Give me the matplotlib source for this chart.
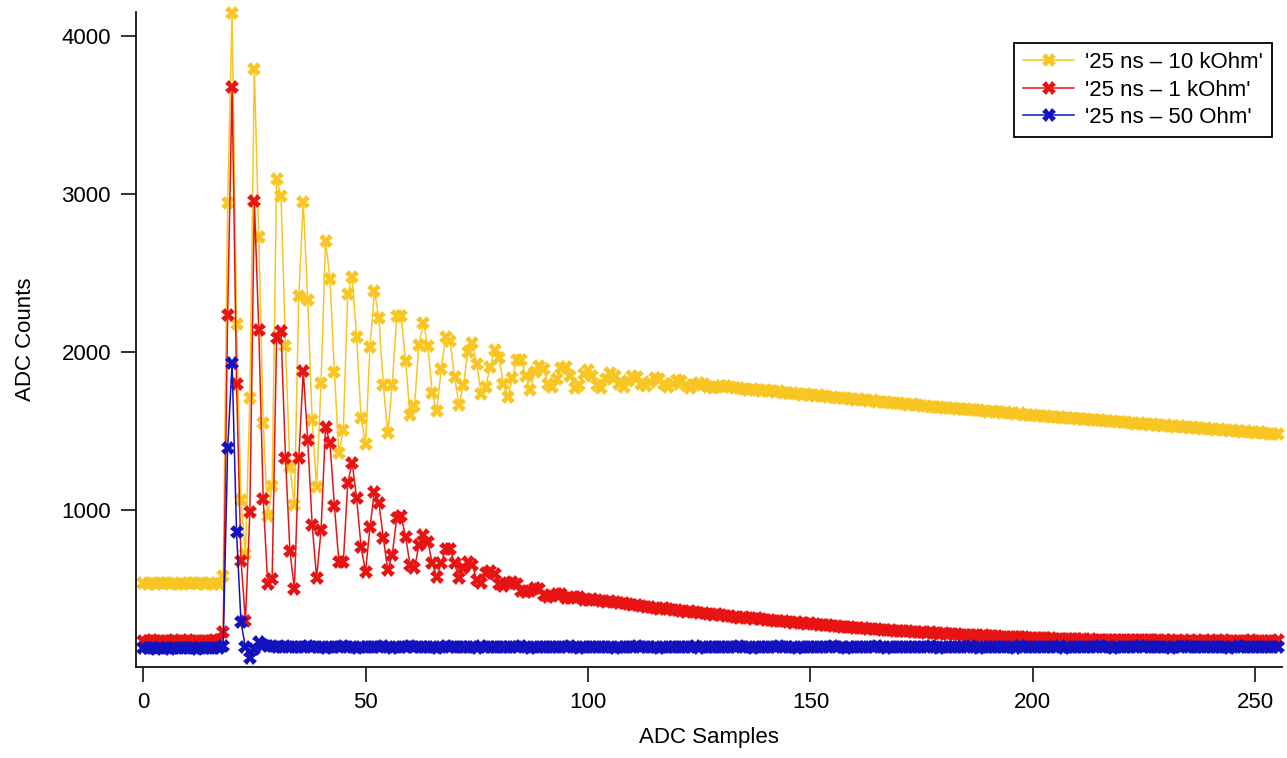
import numpy as np
import matplotlib
matplotlib.use("Agg")
from matplotlib import pyplot as plt

# ADC counts, sample index 0..255
yellow_10k = [536, 534, 538, 533, 535, 537, 532, 536, 534, 531, 535, 538, 533, 536, 532, 535, 530, 534,
	585, 2940, 4145, 2180, 1060, 720, 1710, 3790, 2730, 1550, 960, 1150, 3095, 2990, 2040, 1270, 1030, 2355,
	2950, 2330, 1570, 1146, 1806, 2705, 2465, 1875, 1360, 1506, 2367, 2473, 2093, 1580, 1418, 2033, 2388, 2213,
	1791, 1485, 1791, 2225, 2228, 1945, 1601, 1658, 2044, 2186, 2038, 1738, 1628,
	1890, 2097, 2071, 1844, 1665, 1791, 2002, 2055, 1924, 1734, 1780, 1903, 2013, 1960, 1797, 1717, 1833, 1949,
	1949, 1848, 1759, 1875, 1911, 1890, 1800, 1776,
	1830, 1900, 1905, 1850, 1770, 1790, 1860, 1885, 1850, 1790, 1775, 1830, 1865, 1850, 1800, 1780, 1815, 1850,
	1840, 1800, 1785, 1810, 1835, 1830, 1795, 1780, 1800, 1820, 1815, 1790, 1775, 1790, 1805, 1800, 1780, 1770, 1780,
	1782, 1785, 1776, 1770, 1774, 1768, 1762, 1765, 1758, 1756,
	1760, 1752, 1746, 1750, 1743, 1738, 1741, 1735, 1730, 1733,
	1727, 1722, 1725, 1719, 1714, 1717, 1710, 1706, 1709, 1702,
	1698, 1701, 1694, 1690, 1693, 1686, 1682, 1685, 1678, 1675,
	1677, 1670, 1666, 1669, 1662, 1658, 1661, 1654, 1650, 1653,
	1648, 1644, 1647, 1640, 1637, 1640, 1633, 1630, 1632, 1626,
	1622, 1625, 1618, 1615, 1618, 1611, 1608, 1611, 1604, 1601,
	1604, 1597, 1594, 1597, 1590, 1587, 1590, 1583, 1580, 1583,
	1577, 1573, 1576, 1570, 1567, 1570, 1563, 1560, 1563, 1557,
	1554, 1557, 1550, 1547, 1550, 1543, 1540, 1543, 1537, 1534,
	1537, 1530, 1527, 1530, 1524, 1521, 1524, 1517, 1514, 1517,
	1511, 1508, 1511, 1504, 1501, 1504, 1498, 1495, 1498, 1491,
	1489, 1491, 1485, 1482, 1484, 1478]

red_1k = [172, 170, 174, 171, 169, 173, 171, 175, 170, 172, 174, 171, 169, 173, 172, 170, 174, 178,
	225, 2235, 3680, 1800, 680, 300, 990, 2955, 2140, 1070, 530, 560, 2090, 2130, 1330, 740, 500, 1330,
	1880, 1440, 905, 570, 873, 1527, 1424, 1025, 673, 669, 1173, 1296, 1074, 764, 610, 894, 1116, 1046,
	821, 620, 715, 947, 962, 831, 652, 631, 778, 842, 799, 662, 578,
	662, 751, 751, 662, 568, 631, 673, 652, 557, 540, 600, 615, 595, 530, 520, 540, 545, 530,
	490, 480, 485, 505, 500, 460, 450, 455,
	470, 465, 445, 440, 450, 448, 432, 428, 436, 430,
	422, 420, 424, 415, 408, 410, 404, 398, 400, 392,
	386, 388, 382, 376, 378, 371, 366, 368, 361, 356,
	358, 351, 346, 348, 342, 337, 339,
	333, 328, 330, 324, 319, 321, 315, 311, 313, 307,
	303, 305, 299, 295, 297, 291, 287, 289, 284, 280,
	282, 276, 273, 275, 269, 266, 268, 262, 259, 261,
	256, 253, 255, 249, 246, 248, 243, 240, 242, 237,
	234, 236, 231, 228, 230, 225, 223, 225, 220, 218,
	220, 215, 213, 215, 211, 209, 211, 206, 204, 206,
	202, 200, 202, 198, 196, 198, 194, 193, 195, 191,
	190, 192, 188, 187, 189, 185, 184, 186, 183, 182,
	184, 181, 180, 182, 179, 178, 180, 177, 177, 179,
	176, 176, 178, 175, 175, 177, 174, 174, 176, 173,
	174, 176, 173, 173, 175, 172, 173, 175, 172, 172,
	174, 171, 172, 174, 171, 172, 173, 171, 172, 174,
	171, 172, 173, 171, 172, 174]

blue_50 = [126, 124, 128, 123, 127, 125, 122, 126, 128, 124, 125, 127, 123, 126, 124, 128, 125, 127,
	138, 1390, 1930, 860, 290, 130, 60, 120, 165, 148, 140, 136,
	134, 131, 136, 132, 135, 130, 133, 137, 131, 134,
	132, 128, 135, 133, 130, 136, 131, 134, 129, 133,
	135, 131, 134, 130, 136, 132, 129, 134, 133, 131,
	136, 130, 133, 135, 131, 134, 128, 133, 136, 132,
	130, 135, 133, 131, 134, 129, 136, 132, 133, 130,
	134, 131, 135, 132, 130, 136, 133, 129, 134, 132,
	131, 135, 133, 130, 134, 132, 136, 131, 129, 134,
	133, 130, 135, 131, 134, 132, 128, 135, 133, 131,
	134, 136, 130, 133, 131, 135, 129, 134, 132, 133,
	130, 135, 133, 131, 136, 129, 134, 132, 130, 135,
	133, 131, 134, 130, 136, 132, 133, 129, 135, 131,
	134, 132, 130, 136, 131, 133, 135, 129, 134, 132,
	131, 135, 133, 130, 134, 136, 131, 133, 129, 134,
	132, 135, 130, 133, 131, 136, 134, 129, 132, 135,
	133, 131, 134, 130, 135, 132, 133, 136, 131, 129,
	134, 132, 135, 130, 133, 131, 136, 133, 129, 134,
	132, 130, 135, 133, 131, 134, 129, 136, 132, 133,
	131, 135, 130, 134, 132, 133, 136, 129, 134, 131,
	133, 135, 131, 134, 130, 136, 132, 133, 129, 135,
	132, 134, 131, 133, 136, 130, 134, 132, 131, 135,
	133, 129, 134, 132, 136, 131, 133, 135, 130, 134,
	132, 131, 135, 133, 129, 134, 136, 131, 133, 132,
	134, 130, 135, 132, 133, 131]

labels = ["'25 ns \u2013 10 kOhm'", "'25 ns \u2013 1 kOhm'", "'25 ns \u2013 50 Ohm'"]
colors = ["#F8C623", "#E81414", "#1212BE"]

plt.rcParams['font.family'] = ['Liberation Sans', 'DejaVu Sans']

fig = plt.figure(figsize=(12.87, 7.58), dpi=100)
ax = fig.add_axes([136/1287, 91/758, 1146/1287, 655/758])

for ys, lab, c in zip([yellow_10k, red_1k, blue_50], labels, colors):
	ax.plot(np.arange(len(ys)), ys, color=c, lw=1.1, marker='X', ms=9.5,
		mec=c, mew=0, label=lab, clip_on=False)

ax.set_xlim(-1.6, 256)
ax.set_ylim(6, 4152)
ax.set_xticks([0, 50, 100, 150, 200, 250])
ax.set_yticks([1000, 2000, 3000, 4000])

for s in ['top', 'right']:
	ax.spines[s].set_visible(False)
for s in ['left', 'bottom']:
	ax.spines[s].set_linewidth(1.4)
	ax.spines[s].set_color('#222222')
ax.tick_params(direction='out', length=11, width=1.3, labelsize=16, color='#222222', pad=7)

ax.set_xlabel('ADC Samples', fontsize=16, labelpad=10)
ax.set_ylabel('ADC Counts', fontsize=16, labelpad=18)

leg = ax.legend(loc='upper right', bbox_to_anchor=(1272/1287, 1 - 43/758),
	bbox_transform=fig.transFigure, borderaxespad=0, fancybox=False,
	framealpha=1, edgecolor='black', fontsize=16, handlelength=2.3,
	handletextpad=0.5, labelspacing=0.3, borderpad=0.4)
leg.get_frame().set_linewidth(1.3)

fig.savefig('out.png', dpi=100)
